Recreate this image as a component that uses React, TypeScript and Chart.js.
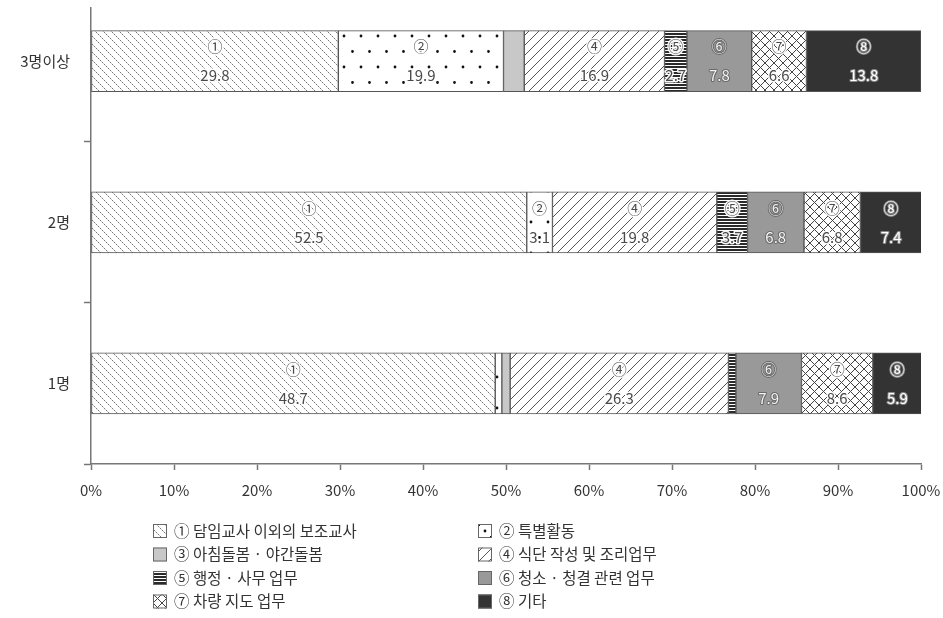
import { useEffect, useRef } from 'react';
import { Chart, registerables } from 'chart.js';

Chart.register(...registerables);

// Groups on the vertical axis (top to bottom)
const groups = ['3명이상', '2명', '1명'];

// Series names and their circled markers
const seriesNames = [
  '담임교사 이외의 보조교사',
  '특별활동',
  '아침돌봄 · 야간돌봄',
  '식단 작성 및 조리업무',
  '행정 · 사무 업무',
  '청소 · 청결 관련 업무',
  '차량 지도 업무',
  '기타',
];
const markers = ['①', '②', '③', '④', '⑤', '⑥', '⑦', '⑧'];

// Share (%) of each task, per group
const assistTeacher = [29.8, 52.5, 48.7];
const specialActivity = [19.9, 3.1, 0.8];
const extendedCare = [2.5, 0, 1.0];
const mealPrep = [16.9, 19.8, 26.3];
const adminWork = [2.7, 3.7, 0.9];
const cleaning = [7.8, 6.8, 7.9];
const vehicle = [6.6, 6.8, 8.6];
const otherWork = [13.8, 7.4, 5.9];

const seriesValues = [
  assistTeacher,
  specialActivity,
  extendedCare,
  mealPrep,
  adminWork,
  cleaning,
  vehicle,
  otherWork,
];

const xTickValues = [0, 10, 20, 30, 40, 50, 60, 70, 80, 90, 100];

const FONT = "'Noto Sans CJK KR', 'Noto Sans', sans-serif";
const LABEL_MIN = 2.6;

type Fill = string | CanvasPattern;

function tile(w: number, h: number, draw: (g: CanvasRenderingContext2D) => void): CanvasPattern {
  const c = document.createElement('canvas');
  c.width = w;
  c.height = h;
  const g = c.getContext('2d')!;
  g.fillStyle = '#ffffff';
  g.fillRect(0, 0, w, h);
  draw(g);
  const ctx = document.createElement('canvas').getContext('2d')!;
  return ctx.createPattern(c, 'repeat')!;
}

function makeFills(): Fill[] {
  // ① dotted back-slash hatch
  const backHatch = tile(8, 8, (g) => {
    for (let i = 0; i < 8; i++) {
      g.fillStyle = i % 2 === 0 ? '#7a7a7a' : '#c4c4c4';
      g.fillRect(i, i, 1, 1);
    }
  });
  // ② scattered dots
  const dots = tile(17, 31, (g) => {
    g.fillStyle = '#111111';
    g.beginPath();
    g.arc(4, 5, 1.4, 0, Math.PI * 2);
    g.arc(12.5, 20.5, 1.4, 0, Math.PI * 2);
    g.fill();
  });
  // ④ forward-slash hatch
  const fwdHatch = tile(10, 10, (g) => {
    g.strokeStyle = '#555555';
    g.lineWidth = 1;
    g.beginPath();
    g.moveTo(0, 10);
    g.lineTo(10, 0);
    g.moveTo(-1, 1);
    g.lineTo(1, -1);
    g.moveTo(9, 11);
    g.lineTo(11, 9);
    g.stroke();
  });
  // ⑤ horizontal stripes
  const stripes = tile(4, 3, (g) => {
    g.fillStyle = '#2a2a2a';
    g.fillRect(0, 0, 4, 2);
  });
  // ⑦ diagonal cross-hatch
  const cross = tile(9, 9, (g) => {
    g.strokeStyle = '#444444';
    g.lineWidth = 1;
    g.beginPath();
    g.moveTo(0, 9);
    g.lineTo(9, 0);
    g.moveTo(-1, 1);
    g.lineTo(1, -1);
    g.moveTo(8, 10);
    g.lineTo(10, 8);
    g.moveTo(0, 0);
    g.lineTo(9, 9);
    g.moveTo(-1, 8);
    g.lineTo(1, 10);
    g.moveTo(8, -1);
    g.lineTo(10, 1);
    g.stroke();
  });
  return [backHatch, dots, '#c8c8c8', fwdHatch, stripes, '#999999', cross, '#333333'];
}

function outlinedText(
  ctx: CanvasRenderingContext2D,
  text: string,
  x: number,
  y: number,
  fill: string,
  stroke: string,
  width: number,
) {
  ctx.lineJoin = 'round';
  ctx.lineWidth = width;
  ctx.strokeStyle = stroke;
  ctx.strokeText(text, x, y);
  ctx.fillStyle = fill;
  ctx.fillText(text, x, y);
}

export default function App() {
  const canvasRef = useRef<HTMLCanvasElement | null>(null);

  useEffect(() => {
    const canvas = canvasRef.current;
    if (!canvas) return;
    const fills = makeFills();

    const barLabels = {
      id: 'barLabels',
      afterDatasetsDraw(chart: any) {
        const ctx: CanvasRenderingContext2D = chart.ctx;
        ctx.save();
        ctx.font = `15px ${FONT}`;
        ctx.textAlign = 'center';
        ctx.textBaseline = 'middle';
        chart.data.datasets.forEach((_ds: any, di: number) => {
          const meta = chart.getDatasetMeta(di);
          meta.data.forEach((bar: any, i: number) => {
            const v = seriesValues[di][i];
            if (v < LABEL_MIN) return;
            const { x, y, base } = bar.getProps(['x', 'y', 'base'], true);
            const cx = (x + base) / 2;
            let fill = '#4a4a4a';
            let stroke = 'rgba(255,255,255,0.95)';
            let width = 3;
            if (di === 5) {
              fill = '#f2f2f2';
              stroke = '#6a6a6a';
              width = 2;
            } else if (di === 7) {
              fill = '#ffffff';
              stroke = '#8a8a8a';
              width = 2;
            }
            outlinedText(ctx, markers[di], cx, y - 14.5, fill, stroke, width);
            outlinedText(ctx, v.toFixed(1), cx, y + 14.5, fill, stroke, width);
          });
        });
        ctx.restore();
      },
    };

    const gridLegend = {
      id: 'gridLegend',
      afterDraw(chart: any) {
        const ctx: CanvasRenderingContext2D = chart.ctx;
        const colX = [153, 478];
        const rowY = [531, 554.5, 578, 601.5];
        const box = 14;
        ctx.save();
        ctx.font = `15.5px ${FONT}`;
        ctx.textAlign = 'left';
        ctx.textBaseline = 'middle';
        seriesNames.forEach((name, k) => {
          const bx = colX[k % 2];
          const by = rowY[Math.floor(k / 2)];
          if (k === 1) {
            // dotted swatch: one centre dot and corner dots
            ctx.fillStyle = '#ffffff';
            ctx.fillRect(bx, by - box / 2, box, box);
            ctx.fillStyle = '#111111';
            ctx.beginPath();
            ctx.arc(bx + box / 2, by, 1.4, 0, Math.PI * 2);
            ctx.fill();
            ctx.fillRect(bx, by - box / 2, 2, 2);
            ctx.fillRect(bx + box - 2, by + box / 2 - 2, 2, 2);
          } else {
            ctx.fillStyle = fills[k] as any;
            ctx.fillRect(bx, by - box / 2, box, box);
          }
          ctx.strokeStyle = '#666666';
          ctx.lineWidth = 1;
          ctx.strokeRect(bx + 0.5, by - box / 2 + 0.5, box - 1, box - 1);
          ctx.fillStyle = '#333333';
          ctx.fillText(`${markers[k]} ${name}`, bx + 21, by);
        });
        ctx.restore();
      },
    };

    const datasets = seriesValues.map((vals, k) => ({
      label: seriesNames[k],
      data: vals.map((v, i) => ({ x: v, y: i })),
      backgroundColor: fills[k] as any,
      borderColor: '#555555',
      borderWidth: 1,
      borderSkipped: false as const,
      barThickness: 61,
    }));

    const chart = new Chart(canvas, {
      type: 'bar',
      data: { datasets },
      options: {
        indexAxis: 'y',
        animation: false,
        responsive: true,
        maintainAspectRatio: false,
        layout: { padding: { top: 8, right: 22, bottom: 110, left: 0 } },
        font: { family: FONT },
        plugins: {
          legend: { display: false },
          tooltip: { enabled: false },
        },
        scales: {
          x: {
            type: 'linear',
            stacked: true,
            min: 0,
            max: 100,
            offset: false,
            afterBuildTicks: (s: any) => {
              s.ticks = xTickValues.map((v) => ({ value: v }));
            },
            afterFit: (s: any) => {
              s.height = 44;
              s.paddingLeft = 0;
              s.paddingRight = 0;
            },
            ticks: {
              callback: (v: any) => `${v}%`,
              color: '#333333',
              font: { family: FONT, size: 15 },
              padding: 11,
              maxRotation: 0,
            },
            grid: {
              offset: false,
              drawOnChartArea: false,
              tickLength: 6,
              tickColor: '#777777',
              tickWidth: 1.5,
            },
            border: { color: '#777777', width: 1.5 },
          },
          y: {
            type: 'linear',
            stacked: true,
            reverse: true,
            offset: false,
            min: -0.33,
            max: 2.5,
            afterBuildTicks: (s: any) => {
              s.ticks = [0, 0.5, 1, 1.5, 2, 2.5].map((v) => ({ value: v }));
            },
            afterFit: (s: any) => {
              s.width = 91;
              s.paddingTop = 0;
              s.paddingBottom = 0;
            },
            ticks: {
              autoSkip: false,
              callback: (v: any) => (Number.isInteger(v) ? groups[v] : ''),
              color: '#333333',
              font: { family: FONT, size: 15 },
              padding: 14,
            },
            grid: {
              offset: false,
              drawOnChartArea: false,
              tickLength: 7,
              tickWidth: 1.5,
              tickColor: (c: any) =>
                c.tick && Number.isInteger(c.tick.value) ? 'rgba(0,0,0,0)' : '#777777',
            },
            border: { color: '#777777', width: 1.5 },
          },
        },
      },
      plugins: [barLabels, gridLegend],
    });

    return () => chart.destroy();
  }, []);

  return (
    <div style={{ position: 'fixed', left: 0, top: 0, width: 943, height: 618, background: '#ffffff' }}>
      <canvas ref={canvasRef} />
    </div>
  );
}
